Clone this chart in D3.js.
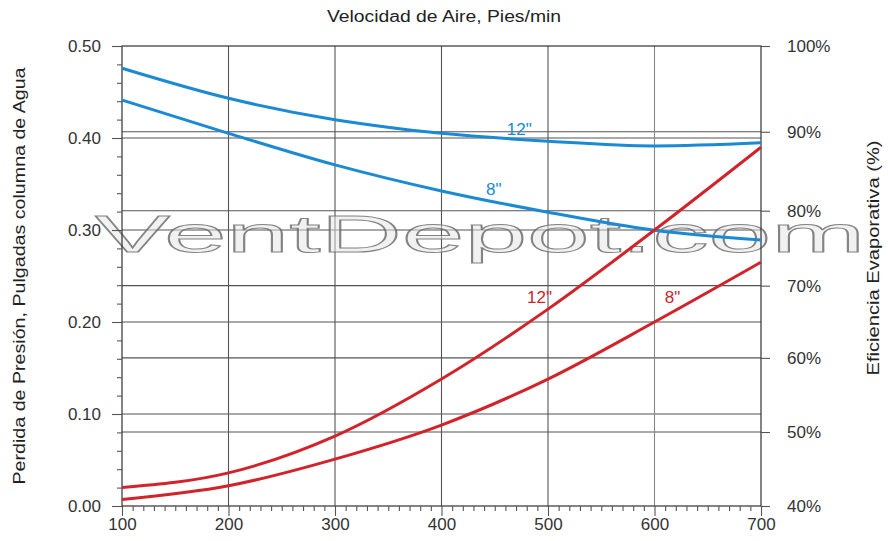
<!DOCTYPE html>
<html>
<head>
<meta charset="utf-8">
<script src="https://cdn.jsdelivr.net/npm/d3@7"></script>
<style>
  body { margin: 0; background: #fff; }
  svg text { font-family: "Liberation Sans", Arial, sans-serif; }
</style>
</head>
<body>
<div id="chart"></div>
<script>
// air velocity (ft/min)
var velocity = [100, 200, 300, 400, 500, 600, 700];

// pressure drop, inches of water (left axis)
var pressure12 = [0.020, 0.036, 0.076, 0.138, 0.214, 0.300, 0.390];
var pressure8 = [0.007, 0.022, 0.051, 0.088, 0.138, 0.200, 0.265];

// evaporative efficiency, % (right axis)
var efficiency12 = [97.4, 93.9, 91.4, 89.8, 88.8, 88.2, 88.6];
var efficiency8 = [93.7, 89.8, 85.8, 82.5, 79.8, 77.4, 76.1];

// tick labels
var pressureTicks = [0, 0.1, 0.2, 0.3, 0.4, 0.5];
var efficiencyTicks = [40, 50, 60, 70, 80, 90, 100];
// the right axis of the original is not evenly spaced: where each % tick sits on the left scale
var efficiencyOnPressure = [0, 0.0804, 0.161, 0.2395, 0.321, 0.4068, 0.5];
var velocityTicks = [100, 200, 300, 400, 500, 600, 700];

var svgWidth = 888;
var svgHeight = 541;
var margin = { top: 46, right: 127, bottom: 35, left: 122 };
var chartWidth = svgWidth - margin.left - margin.right;
var chartHeight = svgHeight - margin.top - margin.bottom;

var svg = d3.select("#chart")
  .append("svg")
  .attr("width", svgWidth)
  .attr("height", svgHeight);

var g = svg.append("g")
  .attr("transform", `translate(${margin.left}, ${margin.top})`);

var xScale = d3.scaleLinear().domain([100, 700]).range([0, chartWidth]);
var yScale = d3.scaleLinear().domain([0, 0.5]).range([chartHeight, 0]);
var effScale = d3.scaleLinear()
  .domain(efficiencyTicks)
  .range(efficiencyOnPressure.map(v => yScale(v)));

var gridColor = "#555";

// grid lines
g.selectAll(".hgridL").data(pressureTicks.slice(1, 5)).enter()
  .append("line")
  .attr("x1", 0).attr("x2", chartWidth)
  .attr("y1", d => yScale(d)).attr("y2", d => yScale(d))
  .attr("stroke", gridColor).attr("stroke-width", 1.1);

g.selectAll(".hgridR").data(efficiencyTicks.slice(1, 6)).enter()
  .append("line")
  .attr("x1", 0).attr("x2", chartWidth)
  .attr("y1", d => effScale(d)).attr("y2", d => effScale(d))
  .attr("stroke", gridColor).attr("stroke-width", 1.1);

g.selectAll(".vgrid").data(velocityTicks.slice(1, 6)).enter()
  .append("line")
  .attr("x1", d => xScale(d)).attr("x2", d => xScale(d))
  .attr("y1", 0).attr("y2", chartHeight)
  .attr("stroke", d => d === 600 ? "#888" : gridColor).attr("stroke-width", 1.1);

// watermark (outlined, stretched wide like the original)
g.append("text")
  .attr("x", -27)
  .attr("y", 206)
  .attr("font-size", 52)
  .attr("font-family", "DejaVu Sans, sans-serif")
  .attr("textLength", 770)
  .attr("lengthAdjust", "spacingAndGlyphs")
  .attr("fill", "#e4e4e4")
  .attr("fill-opacity", 0.5)
  .attr("stroke", "#666")
  .attr("stroke-width", 1)
  .attr("stroke-opacity", 0.8)
  .text("VentDepot.com");

// plot border
g.append("rect")
  .attr("width", chartWidth)
  .attr("height", chartHeight)
  .attr("fill", "none")
  .attr("stroke", "#333")
  .attr("stroke-width", 1.2);

function styleAxis(sel) {
  sel.select(".domain").remove();
  sel.selectAll("line").attr("stroke", gridColor).attr("stroke-width", 1.1);
  sel.selectAll("text").attr("fill", "#333").attr("font-size", 17)
    .attr("font-family", "Liberation Sans, Arial, sans-serif");
}

// left axis
g.append("g")
  .call(d3.axisLeft(yScale).tickValues(pressureTicks).tickFormat(d3.format(".2f"))
    .tickSize(10).tickPadding(11))
  .call(styleAxis);
g.append("g")
  .call(d3.axisLeft(yScale)
    .tickValues(d3.range(1, 25).map(i => i * 0.02).filter((d, i) => (i + 1) % 5 !== 0))
    .tickFormat("").tickSize(5))
  .call(styleAxis);

// right axis
g.append("g")
  .attr("transform", `translate(${chartWidth}, 0)`)
  .call(d3.axisRight(effScale).tickValues(efficiencyTicks).tickFormat(d => d + "%")
    .tickSize(9).tickPadding(17))
  .call(styleAxis);

// bottom axis
g.append("g")
  .attr("transform", `translate(0, ${chartHeight})`)
  .call(d3.axisBottom(xScale).tickValues(velocityTicks).tickSize(10).tickPadding(2))
  .call(styleAxis);
g.append("g")
  .attr("transform", `translate(0, ${chartHeight})`)
  .call(d3.axisBottom(xScale)
    .tickValues(d3.range(110, 700, 10).filter(d => d % 100 !== 0))
    .tickFormat("").tickSize(5))
  .call(styleAxis);

// curves
var blue = "#1a8ad4";
var red = "#d2232a";

var pressureLine = d3.line()
  .x((d, i) => xScale(velocity[i]))
  .y(d => yScale(d))
  .curve(d3.curveMonotoneX);
var effLine = d3.line()
  .x((d, i) => xScale(velocity[i]))
  .y(d => effScale(d))
  .curve(d3.curveMonotoneX);

[efficiency12, efficiency8].forEach(function(series) {
  g.append("path").datum(series)
    .attr("d", effLine)
    .attr("fill", "none")
    .attr("stroke", blue)
    .attr("stroke-width", 3);
});
[pressure12, pressure8].forEach(function(series) {
  g.append("path").datum(series)
    .attr("d", pressureLine)
    .attr("fill", "none")
    .attr("stroke", red)
    .attr("stroke-width", 3);
});

// curve labels
var curveLabels = [
  { text: '12"', v: 473, y: effScale(90.3), color: blue },
  { text: '8"', v: 449, y: effScale(82.8), color: blue },
  { text: '12"', v: 492, y: yScale(0.227), color: red },
  { text: '8"', v: 617, y: yScale(0.227), color: red }
];
g.selectAll(".clabel").data(curveLabels).enter()
  .append("text")
  .attr("x", d => xScale(d.v))
  .attr("y", d => d.y)
  .attr("dy", "0.35em")
  .attr("text-anchor", "middle")
  .attr("font-size", 17)
  .attr("fill", d => d.color)
  .text(d => d.text);

// titles
svg.append("text")
  .attr("x", 444)
  .attr("y", 22)
  .attr("text-anchor", "middle")
  .attr("font-size", 16)
  .attr("textLength", 234)
  .attr("lengthAdjust", "spacingAndGlyphs")
  .attr("fill", "#222")
  .text("Velocidad de Aire, Pies/min");

svg.append("text")
  .attr("transform", "rotate(-90)")
  .attr("x", -276)
  .attr("y", 25)
  .attr("text-anchor", "middle")
  .attr("font-size", 16)
  .attr("textLength", 417)
  .attr("lengthAdjust", "spacingAndGlyphs")
  .attr("fill", "#222")
  .text("Perdida de Presión, Pulgadas columna de Agua");

svg.append("text")
  .attr("transform", "rotate(-90)")
  .attr("x", -258)
  .attr("y", 879)
  .attr("text-anchor", "middle")
  .attr("font-size", 16)
  .attr("textLength", 235)
  .attr("lengthAdjust", "spacingAndGlyphs")
  .attr("fill", "#222")
  .text("Eficiencia Evaporativa (%)");
</script>
</body>
</html>
